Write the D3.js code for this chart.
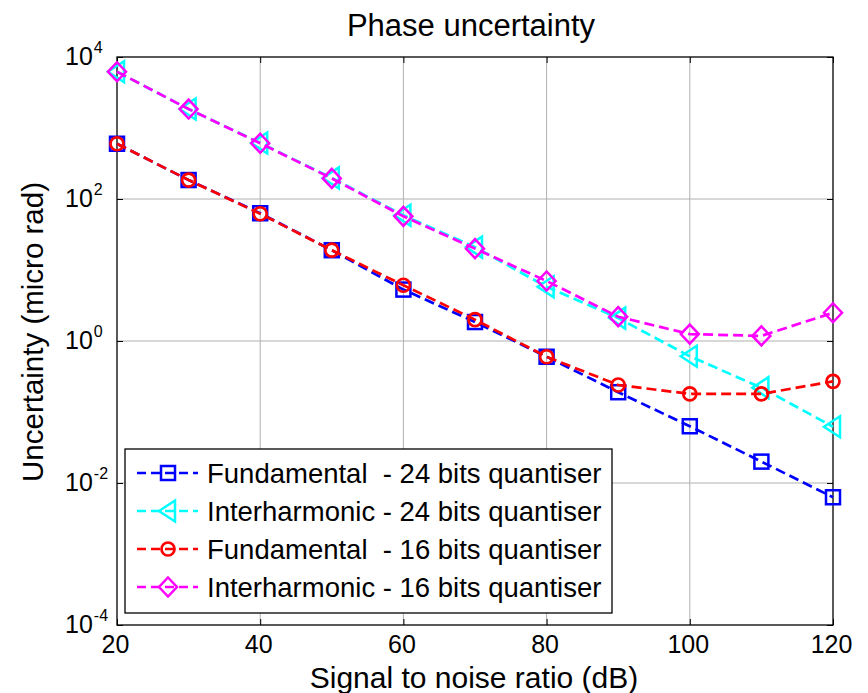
<!DOCTYPE html>
<html>
<head>
<meta charset="utf-8">
<script src="https://cdn.jsdelivr.net/npm/d3@7"></script>
<style>
  body { margin: 0; background: #fff; }
  text { font-family: Arial, "Liberation Sans", sans-serif; fill: #000; }
</style>
</head>
<body>
<script>
const snr = [20, 30, 40, 50, 60, 70, 80, 90, 100, 110, 120]

const fund24 = [600, 185, 63, 19, 5.3, 1.85, 0.6, 0.19, 0.063, 0.020, 0.0063]
const inter24 = [6200, 1850, 615, 198, 59, 21, 5.8, 2.1, 0.61, 0.22, 0.062]
const fund16 = [600, 185, 62, 19, 6.1, 2.0, 0.6, 0.24, 0.18, 0.18, 0.27]
const inter16 = [6200, 1850, 610, 195, 57, 20, 7, 2.2, 1.25, 1.18, 2.5]

const seriesNames = [
    'Fundamental  - 24 bits quantiser',
    'Interharmonic - 24 bits quantiser',
    'Fundamental  - 16 bits quantiser',
    'Interharmonic - 16 bits quantiser'
]
const seriesColors = ['#0000ff', '#00ffff', '#ff0000', '#ff00ff']
const seriesMarkers = ['square', 'triangle', 'circle', 'diamond']
const xTicks = [20, 40, 60, 80, 100, 120]
const yExponents = [4, 2, 0, -2, -4]

const allSeries = [fund24, inter24, fund16, inter16]

const width = 868
const height = 693
const margin = { left: 117, right: 35, top: 57, bottom: 68 }

const svg = d3.select('body')
    .append('svg')
    .attr('width', width)
    .attr('height', height)

const x = d3.scaleLinear()
    .domain([20, 120])
    .range([margin.left, width - margin.right])

const y = d3.scaleLog()
    .domain([1e-4, 1e4])
    .range([height - margin.bottom, margin.top])

// grid
svg.append('g')
    .selectAll('line')
    .data(xTicks.slice(1, -1))
    .enter()
    .append('line')
    .attr('x1', d => x(d)).attr('x2', d => x(d))
    .attr('y1', y(1e4)).attr('y2', y(1e-4))
    .attr('stroke', '#b0b0b0').attr('stroke-width', 1)

svg.append('g')
    .selectAll('line')
    .data(yExponents.slice(1, -1))
    .enter()
    .append('line')
    .attr('x1', x(20)).attr('x2', x(120))
    .attr('y1', d => y(Math.pow(10, d))).attr('y2', d => y(Math.pow(10, d)))
    .attr('stroke', '#b0b0b0').attr('stroke-width', 1)

// axes
const xAxis = d3.axisBottom(x).tickValues(xTicks).tickSize(-6).tickPadding(10).tickFormat(d3.format('d'))
const gx = svg.append('g')
    .attr('transform', `translate(0, ${y(1e-4)})`)
    .call(xAxis)
gx.select('.domain').remove()
gx.selectAll('text').attr('font-size', 25).attr('y', 28).attr('dy', 0).attr('dx', -2)

svg.append('g')
    .attr('transform', `translate(0, ${y(1e4)})`)
    .call(d3.axisTop(x).tickValues(xTicks).tickSize(-6).tickFormat(''))
    .select('.domain').remove()

const yAxis = d3.axisLeft(y).tickValues(yExponents.map(e => Math.pow(10, e))).tickSize(-6).tickFormat('')
svg.append('g')
    .attr('transform', `translate(${x(20)}, 0)`)
    .call(yAxis)
    .select('.domain').remove()
svg.append('g')
    .attr('transform', `translate(${x(120)}, 0)`)
    .call(d3.axisRight(y).tickValues(yExponents.map(e => Math.pow(10, e))).tickSize(-6).tickFormat(''))
    .select('.domain').remove()

// y tick labels as 10^n
const yLabels = svg.append('g')
yExponents.forEach(e => {
    const t = yLabels.append('text')
        .attr('x', 65)
        .attr('y', y(Math.pow(10, e)) + 8)
        .attr('font-size', 25)
    t.append('tspan').text('10')
    t.append('tspan').attr('dy', -12).attr('dx', 1).attr('font-size', 16).text(String(e))
})

svg.append('rect')
    .attr('x', x(20)).attr('y', y(1e4))
    .attr('width', x(120) - x(20)).attr('height', y(1e-4) - y(1e4))
    .attr('fill', 'none').attr('stroke', '#000').attr('stroke-width', 1.3)

// markers
const drawMarker = (g, type, color, cx, cy) => {
    if (type === 'square') {
        g.append('rect').attr('x', cx - 7).attr('y', cy - 7).attr('width', 14).attr('height', 14)
            .attr('fill', 'none').attr('stroke', color).attr('stroke-width', 2.5)
    } else if (type === 'circle') {
        g.append('circle').attr('cx', cx).attr('cy', cy).attr('r', 6.5)
            .attr('fill', 'none').attr('stroke', color).attr('stroke-width', 2.7)
    } else if (type === 'triangle') {
        g.append('path').attr('d', `M${cx - 9},${cy} L${cx + 7},${cy - 10.5} L${cx + 7},${cy + 10.5} Z`)
            .attr('fill', 'none').attr('stroke', color).attr('stroke-width', 2.5)
    } else {
        g.append('path').attr('d', `M${cx},${cy - 9.5} L${cx + 9},${cy} L${cx},${cy + 9.5} L${cx - 9},${cy} Z`)
            .attr('fill', 'none').attr('stroke', color).attr('stroke-width', 2.5)
    }
}

const line = d3.line()
    .x((d, i) => x(snr[i]))
    .y(d => y(d))

allSeries.forEach((vals, k) => {
    const g = svg.append('g')
    g.append('path')
        .datum(vals)
        .attr('d', line)
        .attr('fill', 'none')
        .attr('stroke', seriesColors[k])
        .attr('stroke-width', 2.7)
        .attr('stroke-dasharray', '10,5')
    vals.forEach((v, i) => drawMarker(g, seriesMarkers[k], seriesColors[k], x(snr[i]), y(v)))
})

// legend
const legend = svg.append('g')
legend.append('rect')
    .attr('x', 125).attr('y', 449).attr('width', 487).attr('height', 164)
    .attr('fill', '#fff').attr('stroke', '#000').attr('stroke-width', 1.3)
seriesNames.forEach((name, k) => {
    const ly = 473 + k * 38
    legend.append('line')
        .attr('x1', 137).attr('x2', 198).attr('y1', ly).attr('y2', ly)
        .attr('stroke', seriesColors[k]).attr('stroke-width', 2.5).attr('stroke-dasharray', '9,5')
    drawMarker(legend, seriesMarkers[k], seriesColors[k], 168, ly)
    legend.append('text')
        .attr('x', 207).attr('y', ly + 10)
        .attr('font-size', 27.5)
        .attr('xml:space', 'preserve')
        .style('white-space', 'pre')
        .text(name)
})

// title and labels
svg.append('text')
    .attr('x', 471).attr('y', 36)
    .attr('text-anchor', 'middle').attr('font-size', 31)
    .text('Phase uncertainty')

svg.append('text')
    .attr('x', 474).attr('y', 688)
    .attr('text-anchor', 'middle').attr('font-size', 30)
    .text('Signal to noise ratio (dB)')

svg.append('text')
    .attr('transform', `translate(43, 332) rotate(-90)`)
    .attr('text-anchor', 'middle').attr('font-size', 29.5)
    .text('Uncertainty (micro rad)')
</script>
</body>
</html>
